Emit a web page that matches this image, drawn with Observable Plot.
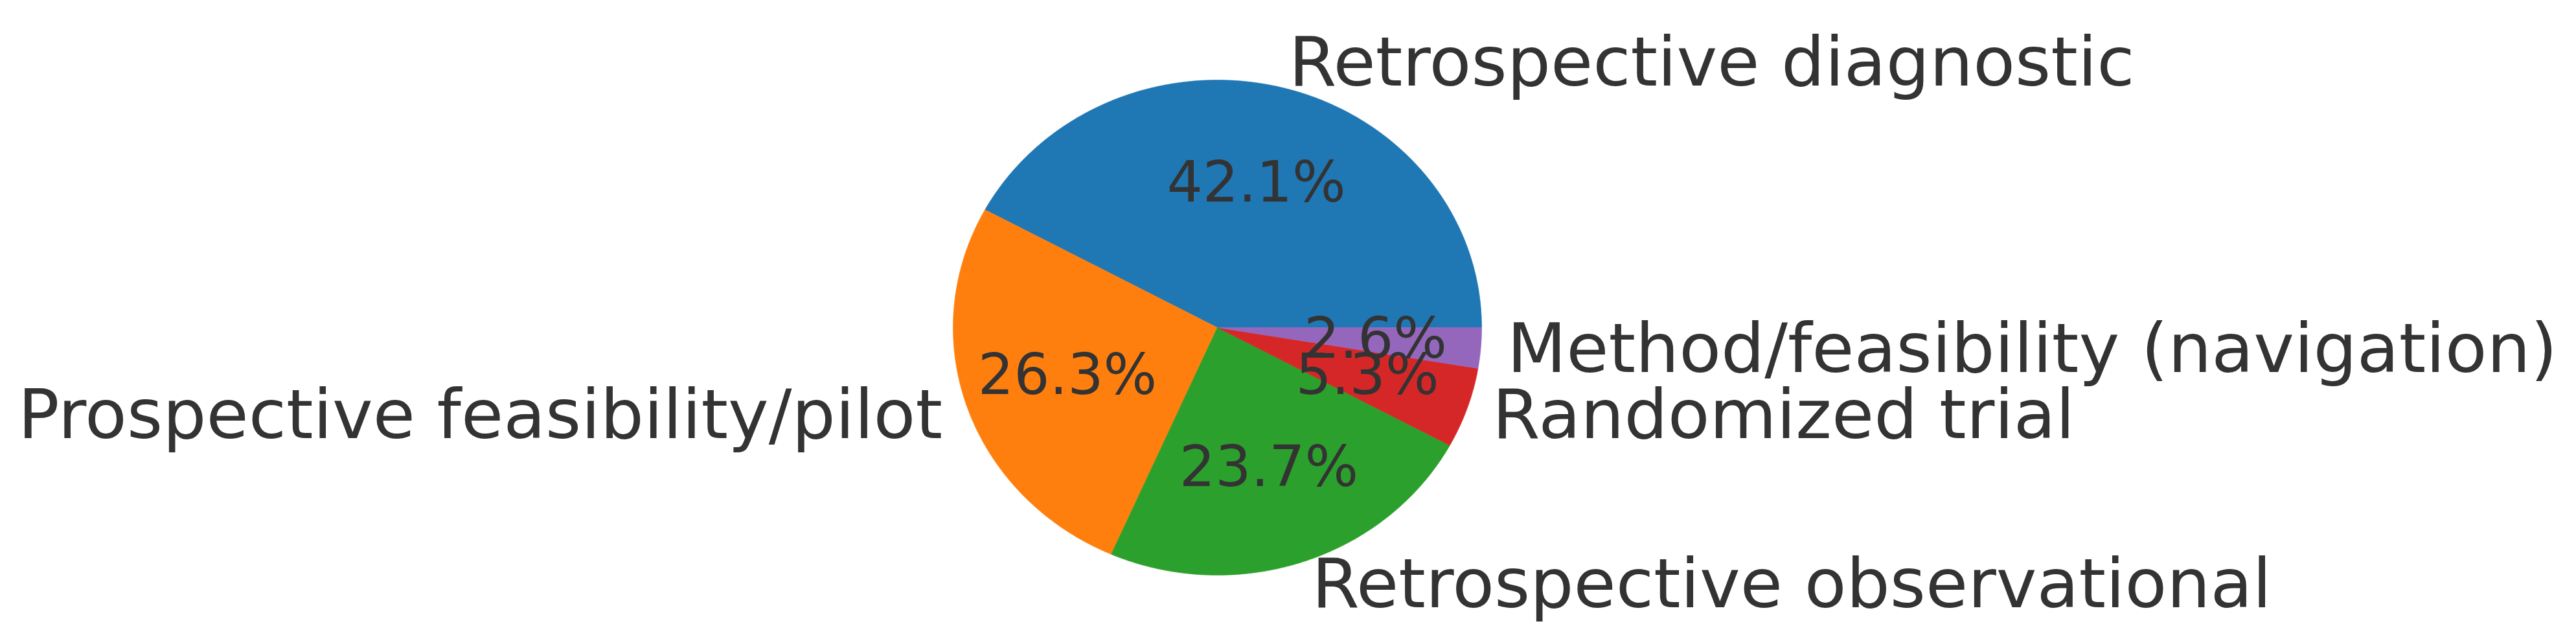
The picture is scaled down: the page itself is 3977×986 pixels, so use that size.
<!DOCTYPE html>
<html>
<head>
<meta charset="utf-8">
<script src="https://cdn.jsdelivr.net/npm/d3@7"></script>
<script src="https://cdn.jsdelivr.net/npm/@observablehq/plot@0.6"></script>
<style>
  html, body { margin: 0; padding: 0; background: #ffffff; }
  #chart svg { display: block; }
</style>
</head>
<body>
<div id="chart"></div>
<script>
// Study design categories (in matplotlib pie order, counterclockwise from 3 o'clock)
const categories = [
  "Retrospective diagnostic",
  "Prospective feasibility/pilot",
  "Retrospective observational",
  "Randomized trial",
  "Method/feasibility (navigation)"
];
// Counts (38 studies total): 42.1%, 26.3%, 23.7%, 5.3%, 2.6%
const counts = [16, 10, 9, 2, 1];
const colors = ["#1f77b4", "#ff7f0e", "#2ca02c", "#d62728", "#9467bd"];

const total = d3.sum(counts);
let acc = 0;
const slices = categories.map((c, i) => {
  const a0 = acc / total * 2 * Math.PI;
  acc += counts[i];
  const a1 = acc / total * 2 * Math.PI;
  return { c, a0, a1, mid: (a0 + a1) / 2, pct: (counts[i] / total * 100).toFixed(1) + "%" };
});

// slice outlines in unit-circle data space
const pts = [];
for (const s of slices) {
  const n = Math.max(4, Math.ceil((s.a1 - s.a0) / (2 * Math.PI) * 720));
  pts.push({ c: s.c, x: 0, y: 0 });
  for (let k = 0; k <= n; k++) {
    const a = s.a0 + (s.a1 - s.a0) * k / n;
    pts.push({ c: s.c, x: Math.cos(a), y: Math.sin(a) });
  }
  pts.push({ c: s.c, x: 0, y: 0 });
}

const labels = slices.map(s => ({ c: s.c, x: 1.1 * Math.cos(s.mid), y: 1.1 * Math.sin(s.mid) }));
const pctText = slices.map(s => ({ t: s.pct, x: 0.6 * Math.cos(s.mid), y: 0.6 * Math.sin(s.mid) }));

const W = 3977, H = 986;
const cx = 1879, cy = 505, rx = 408, ry = 382;

const chart = Plot.plot({
  width: W,
  height: H,
  marginLeft: cx - rx,
  marginRight: W - (cx + rx),
  marginTop: cy - ry,
  marginBottom: H - (cy + ry),
  x: { domain: [-1, 1], axis: null },
  y: { domain: [-1, 1], axis: null },
  color: { domain: categories, range: colors },
  style: { background: "#ffffff", fontFamily: "DejaVu Sans", color: "#333333" },
  marks: [
    Plot.line(pts, { x: "x", y: "y", z: "c", fill: "c", stroke: "c", strokeWidth: 0.6, curve: "linear" }),
    Plot.text(labels.filter(d => d.x >= 0), { x: "x", y: "y", text: "c", textAnchor: "start", fontSize: 106, fill: "#333333", lineAnchor: "middle" }),
    Plot.text(labels.filter(d => d.x < 0), { x: "x", y: "y", text: "c", textAnchor: "end", fontSize: 106, fill: "#333333", lineAnchor: "middle" }),
    Plot.text(pctText, { x: "x", y: "y", text: "t", textAnchor: "middle", fontSize: 87, fill: "#333333", lineAnchor: "middle" })
  ]
});
document.getElementById("chart").appendChild(chart);
</script>
</body>
</html>
